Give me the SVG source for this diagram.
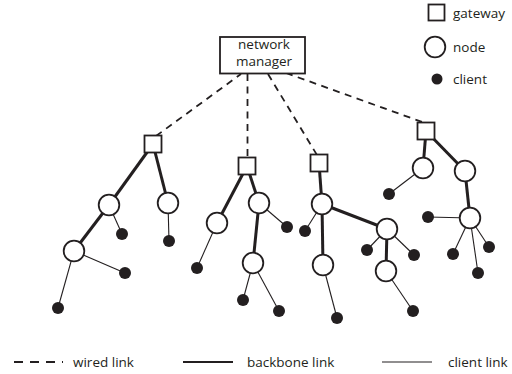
<svg xmlns="http://www.w3.org/2000/svg" width="512" height="374" viewBox="0 0 512 374">
<style>
.wired{stroke:#231f20;stroke-width:1.8;stroke-dasharray:7,5.5;fill:none}
.bb{stroke:#231f20;stroke-width:3;fill:none}
.cl{stroke:#231f20;stroke-width:1.1;fill:none}
.gw{fill:#fff;stroke:#231f20;stroke-width:1.8}
.nd{fill:#fff;stroke:#231f20;stroke-width:1.8}
.ct{fill:#231f20}
text{font-family:"Open Sans","Liberation Sans",sans-serif;font-size:13.5px;fill:#231f20}
</style>
<g id="connectors">
<line class="wired" x1="156" y1="136" x2="241" y2="74"/>
<line class="wired" x1="247.5" y1="74" x2="247.5" y2="158"/>
<line class="wired" x1="268" y1="74" x2="317" y2="155"/>
<line class="wired" x1="286" y1="73" x2="425" y2="123"/>
<line class="bb" x1="153" y1="144" x2="109" y2="205"/>
<line class="bb" x1="153" y1="144" x2="168" y2="203"/>
<line class="bb" x1="109" y1="205" x2="74" y2="251"/>
<line class="cl" x1="109" y1="205" x2="122" y2="234"/>
<line class="cl" x1="168" y1="203" x2="169" y2="241"/>
<line class="cl" x1="74" y1="251" x2="125" y2="273"/>
<line class="cl" x1="74" y1="251" x2="58" y2="308"/>
<line class="bb" x1="247" y1="166" x2="217" y2="223"/>
<line class="bb" x1="247" y1="166" x2="259" y2="203"/>
<line class="bb" x1="259" y1="203" x2="253" y2="263"/>
<line class="cl" x1="217" y1="223" x2="197" y2="268"/>
<line class="cl" x1="259" y1="203" x2="287" y2="227"/>
<line class="cl" x1="253" y1="263" x2="243" y2="300"/>
<line class="cl" x1="253" y1="263" x2="279" y2="311"/>
<line class="bb" x1="319" y1="163" x2="322" y2="204"/>
<line class="bb" x1="322" y1="204" x2="323" y2="265"/>
<line class="bb" x1="322" y1="204" x2="387" y2="229"/>
<line class="bb" x1="387" y1="229" x2="386" y2="271"/>
<line class="cl" x1="322" y1="204" x2="305" y2="231"/>
<line class="cl" x1="323" y1="265" x2="337" y2="318"/>
<line class="cl" x1="387" y1="229" x2="367" y2="250"/>
<line class="cl" x1="387" y1="229" x2="414" y2="255"/>
<line class="cl" x1="386" y1="271" x2="413" y2="311"/>
<line class="bb" x1="426" y1="131" x2="423" y2="168"/>
<line class="bb" x1="426" y1="131" x2="465" y2="171"/>
<line class="bb" x1="465" y1="171" x2="470" y2="218"/>
<line class="cl" x1="423" y1="168" x2="389" y2="194"/>
<line class="cl" x1="470" y1="218" x2="428" y2="217"/>
<line class="cl" x1="470" y1="218" x2="453" y2="254"/>
<line class="cl" x1="470" y1="218" x2="478" y2="273"/>
<line class="cl" x1="470" y1="218" x2="489" y2="247"/>
</g>
<g id="manager">
<rect x="220" y="37" width="85" height="36.5" fill="#fff" stroke="#231f20" stroke-width="1.8"/>
<text x="264" y="48.5" text-anchor="middle">network</text>
<text x="264" y="65.5" text-anchor="middle">manager</text>
</g>
<g id="gw1"><rect class="gw" x="144.5" y="135.5" width="17" height="17"/></g>
<g id="gw2"><rect class="gw" x="238.5" y="157.5" width="17" height="17"/></g>
<g id="gw3"><rect class="gw" x="310.5" y="154.5" width="17" height="17"/></g>
<g id="gw4"><rect class="gw" x="417.5" y="122.5" width="17" height="17"/></g>
<g id="nA"><circle class="nd" cx="109" cy="205" r="10.3"/></g>
<g id="nB"><circle class="nd" cx="168" cy="203" r="10.3"/></g>
<g id="nC"><circle class="nd" cx="74" cy="251" r="10.3"/></g>
<g id="nD"><circle class="nd" cx="217" cy="223" r="10.3"/></g>
<g id="nE"><circle class="nd" cx="259" cy="203" r="10.3"/></g>
<g id="nF"><circle class="nd" cx="253" cy="263" r="10.3"/></g>
<g id="nG"><circle class="nd" cx="322" cy="204" r="10.3"/></g>
<g id="nH"><circle class="nd" cx="323" cy="265" r="10.3"/></g>
<g id="nI"><circle class="nd" cx="387" cy="229" r="10.3"/></g>
<g id="nJ"><circle class="nd" cx="386" cy="271" r="10.3"/></g>
<g id="nK"><circle class="nd" cx="423" cy="168" r="10.3"/></g>
<g id="nL"><circle class="nd" cx="465" cy="171" r="10.3"/></g>
<g id="nM"><circle class="nd" cx="470" cy="218" r="10.3"/></g>
<g id="clients">
<circle class="ct" cx="122" cy="234" r="6"/>
<circle class="ct" cx="169" cy="241" r="6"/>
<circle class="ct" cx="125" cy="273" r="6"/>
<circle class="ct" cx="58" cy="308" r="6"/>
<circle class="ct" cx="197" cy="268" r="6"/>
<circle class="ct" cx="287" cy="227" r="6"/>
<circle class="ct" cx="243" cy="300" r="6"/>
<circle class="ct" cx="279" cy="311" r="6"/>
<circle class="ct" cx="305" cy="231" r="6"/>
<circle class="ct" cx="337" cy="318" r="6"/>
<circle class="ct" cx="367" cy="250" r="6"/>
<circle class="ct" cx="414" cy="255" r="6"/>
<circle class="ct" cx="413" cy="311" r="6"/>
<circle class="ct" cx="389" cy="194" r="6"/>
<circle class="ct" cx="428" cy="217" r="6"/>
<circle class="ct" cx="453" cy="254" r="6"/>
<circle class="ct" cx="478" cy="273" r="6"/>
<circle class="ct" cx="489" cy="247" r="6"/>
</g>
<g id="legend">
<rect class="gw" x="428.5" y="4.5" width="16" height="16"/>
<text x="453" y="18">gateway</text>
<circle class="nd" cx="435" cy="47" r="10.3"/>
<text x="453" y="52">node</text>
<circle class="ct" cx="437" cy="79" r="5.5"/>
<text x="453" y="83.5">client</text>
<line x1="14" y1="362" x2="63" y2="362" stroke="#231f20" stroke-width="1.8" stroke-dasharray="9,7"/>
<text x="73" y="366.5">wired link</text>
<line class="bb" x1="183" y1="362" x2="233" y2="362" style="stroke-width:2.2"/>
<line class="cl" x1="382" y1="362" x2="432" y2="362"/>
<text x="247" y="366.5">backbone link</text>
<text x="448" y="366.5">client link</text>
</g>
</svg>
